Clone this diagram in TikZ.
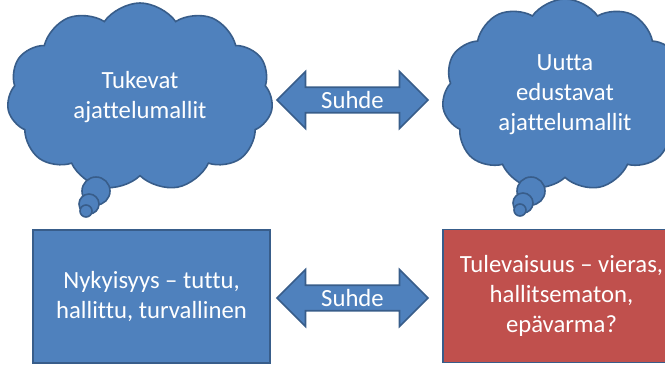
\documentclass[tikz,border=0pt]{standalone}
\usepackage{fontspec}
\setmainfont{Carlito}[Ligatures=NoCommon]
\usetikzlibrary{shapes.symbols,shapes.arrows}
\definecolor{sininen}{HTML}{4F81BD}
\definecolor{reuna}{HTML}{385D8A}
\definecolor{punainen}{HTML}{C0504D}
\tikzset{
  teksti/.style = {align=center, text=white,
    font=\fontsize{24.7}{30}\selectfont},
  pilvi/.style = {teksti, cloud, cloud puffs=11, cloud puff arc=110,
    cloud ignores aspect, draw=reuna, fill=sininen, line width=1.6pt},% ajatuspilvi
  kupla/.style = {circle, draw=reuna, fill=sininen, line width=1.6pt,
    inner sep=0pt},% ajatuskupla
  laatikko_s/.style = {teksti, rectangle, draw=reuna, fill=sininen,
    line width=1.6pt, minimum width=237pt, minimum height=133pt},% sininen laatikko
  laatikko_p/.style = {laatikko_s, fill=punainen},% punainen laatikko
  nuoli/.style = {teksti, double arrow, double arrow head extend=13pt,
    draw=reuna, fill=sininen, line width=1.6pt, inner sep=1pt,
    minimum height=151pt, minimum width=57pt}% kaksisuuntainen nuoli
}

\begin{document}
\begin{tikzpicture}[x=1pt, y=-1pt]
  \clip (0,0) rectangle (665,365);
  \node [pilvi, minimum width=266pt, minimum height=188pt] (pilvi_n) at (140,97)
    {Tukevat\\ajattelumallit};
  \node [pilvi, minimum width=246pt, minimum height=192pt] (pilvi_t) at (565,95)
    {Uutta\\edustavat\\ajattelumallit};
  \node [kupla, minimum size=28pt] (kupla_n1) at (96,191) {};
  \node [kupla, minimum size=20pt] (kupla_n2) at (89,204) {};
  \node [kupla, minimum size=12pt] (kupla_n3) at (86,211) {};
  \node [kupla, minimum size=28pt] (kupla_t1) at (531,191) {};
  \node [kupla, minimum size=20pt] (kupla_t2) at (523,203) {};
  \node [kupla, minimum size=12pt] (kupla_t3) at (520,210) {};
  \node [nuoli] (suhde_y) at (352.5,100) {Suhde};
  \node [laatikko_s] (nyky) at (151.5,296.5)
    {Nykyisyys -- tuttu,\\hallittu, turvallinen};
  \node [laatikko_p] (tuleva) at (561.5,296)
    {Tulevaisuus -- vieras,\\hallitsematon,\\epävarma?};
  \node [nuoli] (suhde_a) at (352.5,298) {Suhde};
\end{tikzpicture}
\end{document}
